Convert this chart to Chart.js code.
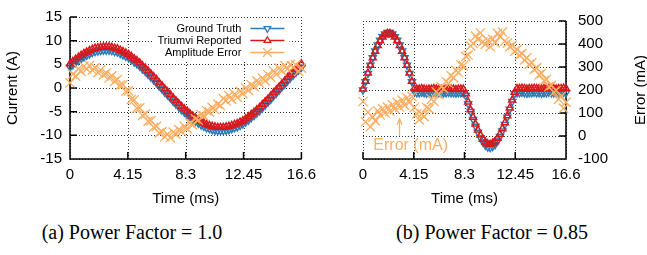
<!DOCTYPE html>
<html>
<head>
<meta charset="utf-8">
<script src="https://cdn.jsdelivr.net/npm/chart.js@4.4.1/dist/chart.umd.min.js"></script>
<style>
  html, body { margin: 0; padding: 0; background: #fff; }
  #wrap { position: relative; width: 647px; height: 255px; overflow: hidden; }
  canvas { position: absolute; top: 0; }
  #chartA { left: 0; }
  #chartB { left: 323px; }
  .caption {
    position: absolute; top: 221px; line-height: 20px;
    font: 20px "Liberation Serif", "Times New Roman", serif;
    color: #000; white-space: nowrap; transform: translateX(-50%);
  }
</style>
</head>
<body>
<div id="wrap">
  <canvas id="chartA" width="323" height="210"></canvas>
  <canvas id="chartB" width="324" height="210"></canvas>
  <div class="caption" style="left:132px">(a) Power Factor = 1.0</div>
  <div class="caption" style="left:492px">(b) Power Factor = 0.85</div>
</div>
<script>
// one reading every 0.2 ms over a 60 Hz cycle
const times = [0, 0.2, 0.4, 0.6, 0.8, 1, 1.2, 1.4, 1.6, 1.8, 2, 2.2, 2.4, 2.6, 2.8, 3, 3.2, 3.4, 3.6, 3.8,
  4, 4.2, 4.4, 4.6, 4.8, 5, 5.2, 5.4, 5.6, 5.8, 6, 6.2, 6.4, 6.6, 6.8, 7, 7.2, 7.4, 7.6, 7.8,
  8, 8.2, 8.4, 8.6, 8.8, 9, 9.2, 9.4, 9.6, 9.8, 10, 10.2, 10.4, 10.6, 10.8, 11, 11.2, 11.4, 11.6, 11.8,
  12, 12.2, 12.4, 12.6, 12.8, 13, 13.2, 13.4, 13.6, 13.8, 14, 14.2, 14.4, 14.6, 14.8, 15, 15.2, 15.4, 15.6, 15.8,
  16, 16.2, 16.4, 16.6];
const timeTicks = [0, 4.15, 8.3, 12.45, 16.6];
const timeLabels = ['0', '4.15', '8.3', '12.45', '16.6'];
const currentTicks = [-15, -10, -5, 0, 5, 10, 15];
const errorTicks = [-100, 0, 100, 200, 300, 400, 500];

// (a) power factor = 1.0, current in A, error in mA
const truthA = [4.4, 4.9, 5.4, 5.8, 6.2, 6.6, 6.9, 7.2, 7.5, 7.7,
  7.8, 7.9, 8.0, 8.0, 8.0, 7.9, 7.7, 7.6, 7.3, 7.0,
  6.7, 6.4, 6.0, 5.5, 5.1, 4.6, 4.0, 3.5, 2.9, 2.3,
  1.7, 1.1, 0.4, -0.2, -0.9, -1.5, -2.1, -2.8, -3.4, -4.0,
  -4.6, -5.1, -5.6, -6.1, -6.6, -7.0, -7.4, -7.8, -8.1, -8.4,
  -8.6, -8.8, -8.9, -9.0, -9.0, -9.0, -8.9, -8.8, -8.6, -8.4,
  -8.2, -7.9, -7.6, -7.2, -6.8, -6.3, -5.8, -5.3, -4.8, -4.2,
  -3.6, -3.0, -2.4, -1.7, -1.1, -0.5, 0.2, 0.8, 1.5, 2.1,
  2.7, 3.3, 3.8, 4.4];
const reportedA = [5.1, 5.6, 6.1, 6.5, 6.9, 7.3, 7.6, 7.9, 8.2, 8.4,
  8.5, 8.6, 8.7, 8.7, 8.7, 8.6, 8.4, 8.3, 8.0, 7.7,
  7.4, 7.1, 6.7, 6.2, 5.8, 5.3, 4.7, 4.2, 3.6, 3.0,
  2.4, 1.8, 1.1, 0.5, -0.2, -0.8, -1.4, -2.1, -2.7, -3.3,
  -3.9, -4.4, -4.9, -5.4, -5.9, -6.3, -6.7, -7.1, -7.4, -7.7,
  -7.9, -8.1, -8.2, -8.3, -8.3, -8.3, -8.2, -8.1, -7.9, -7.7,
  -7.5, -7.2, -6.9, -6.5, -6.1, -5.6, -5.1, -4.6, -4.1, -3.5,
  -2.9, -2.3, -1.7, -1.0, -0.4, 0.2, 0.9, 1.5, 2.2, 2.8,
  3.4, 4.0, 4.5, 5.1];
const errorA = [222, 258, 250, 281, 270, 292, 280, 295, 276, 286,
  265, 277, 255, 263, 242, 251, 228, 236, 212, 214,
  186, 188, 152, 150, 115, 116, 84, 90, 60, 62,
  34, 38, 10, 16, -6, 4, -10, 14, 4, 24,
  16, 38, 28, 52, 44, 70, 64, 88, 82, 104,
  98, 118, 108, 132, 126, 155, 146, 168, 152, 174,
  160, 186, 176, 200, 190, 214, 206, 230, 220, 242,
  230, 256, 246, 272, 258, 284, 272, 296, 280, 300,
  288, 298, 270, 284];

// (b) power factor = 0.85
const truthB = [0, 1.8, 3.6, 5.4, 7.0, 8.5, 9.8, 10.8, 11.6, 12.2,
  12.5, 12.5, 12.2, 11.6, 10.8, 9.8, 8.5, 7.0, 5.4, 3.6,
  1.8, -0.3, -0.6, -0.6, -0.5, -0.6, -0.7, -0.6, -0.6, -0.5,
  -0.6, -0.6, -0.7, -0.6, -0.6, -0.5, -0.6, -0.6, -0.7, -0.6,
  -0.6, -0.6, -1.2, -3.0, -4.7, -6.4, -7.9, -9.2, -10.4, -11.3,
  -12.0, -12.4, -12.5, -12.3, -11.9, -11.1, -10.1, -8.9, -7.5, -5.9,
  -4.2, -2.5, -0.8, -0.6, -0.6, -0.5, -0.6, -0.7, -0.6, -0.6,
  -0.5, -0.6, -0.6, -0.7, -0.6, -0.6, -0.5, -0.6, -0.6, -0.7,
  -0.6, -0.6, -0.5, -0.6];
const reportedB = [0.2, 1.9, 3.7, 5.4, 7.0, 8.4, 9.7, 10.7, 11.5, 12.0,
  12.3, 12.3, 12.0, 11.5, 10.7, 9.7, 8.4, 7.0, 5.4, 3.7,
  1.9, 0.3, 0.2, 0.2, 0.3, 0.2, 0.1, 0.2, 0.2, 0.3,
  0.2, 0.2, 0.1, 0.2, 0.2, 0.3, 0.2, 0.2, 0.1, 0.2,
  0.2, 0.2, -0.8, -2.6, -4.3, -5.9, -7.4, -8.7, -9.8, -10.7,
  -11.3, -11.7, -11.8, -11.6, -11.2, -10.5, -9.6, -8.4, -7.1, -5.6,
  -3.9, -2.2, -0.5, 0.3, 0.3, 0.4, 0.3, 0.2, 0.3, 0.3,
  0.4, 0.3, 0.3, 0.2, 0.3, 0.3, 0.4, 0.3, 0.3, 0.2,
  0.3, 0.3, 0.4, 0.3];
const errorB = [150, 62, 104, 40, 82, 66, 110, 92, 118, 100,
  126, 108, 136, 118, 146, 126, 156, 134, 166, 146,
  172, 124, 96, 70, 96, 84, 124, 118, 160, 150,
  192, 180, 214, 206, 236, 228, 262, 254, 286, 276,
  310, 306, 346, 352, 392, 402, 434, 420, 448, 410,
  398, 416, 388, 420, 406, 446, 432, 452, 412, 404,
  388, 394, 368, 376, 352, 358, 330, 340, 312, 318,
  290, 296, 266, 272, 240, 246, 214, 220, 190, 198,
  160, 172, 120, 146];

const COLORS = { truth: '#2c7bb6', reported: '#d7191c', error: '#fdae61' };
const FONT = '"Liberation Sans", Arial, sans-serif';

Chart.defaults.font.family = FONT;
Chart.defaults.font.size = 15;
Chart.defaults.color = '#000';

const toPoints = values => times.map((t, i) => ({ x: t, y: values[i] }));

function makeDatasets(truth, reported, error) {
    return [
        {
            label: 'Ground Truth',
            data: toPoints(truth),
            yAxisID: 'y',
            pointStyle: 'triangle',
            rotation: 180,
            pointRadius: 4,
            borderWidth: 1.5,
            borderColor: COLORS.truth,
            backgroundColor: 'rgba(0,0,0,0)',
            order: 2,
            clip: false
        },
        {
            label: 'Triumvi Reported',
            data: toPoints(reported),
            yAxisID: 'y',
            pointStyle: 'triangle',
            pointRadius: 4,
            borderWidth: 1.5,
            borderColor: COLORS.reported,
            backgroundColor: 'rgba(0,0,0,0)',
            order: 1,
            clip: false
        },
        {
            label: 'Amplitude Error',
            data: toPoints(error),
            yAxisID: 'y2',
            pointStyle: 'crossRot',
            pointRadius: 6.5,
            borderWidth: 1.3,
            borderColor: COLORS.error,
            backgroundColor: COLORS.error,
            order: 0,
            clip: false
        }
    ];
}

// gnuplot-like frame: dotted grid, solid axes with inward ticks
const framePlugin = {
    id: 'frame',
    beforeDatasetsDraw(chart, args, opts) {
        const { ctx, chartArea: a } = chart;
        const xs = chart.scales.x;
        const ys = chart.scales[opts.axis];
        const vals = opts.axis === 'y' ? currentTicks : errorTicks;
        const snap = v => Math.round(v) + 0.5;
        ctx.save();
        ctx.lineWidth = 1;
        ctx.strokeStyle = '#333';
        ctx.setLineDash([1, 2]);
        ctx.beginPath();
        timeTicks.forEach(v => {
            const px = snap(xs.getPixelForValue(v));
            ctx.moveTo(px, a.top); ctx.lineTo(px, a.bottom);
        });
        vals.forEach(v => {
            const py = snap(ys.getPixelForValue(v));
            ctx.moveTo(a.left, py); ctx.lineTo(a.right, py);
        });
        ctx.stroke();

        ctx.setLineDash([]);
        ctx.strokeStyle = '#000';
        ctx.lineWidth = 1.5;
        const left = opts.side === 'left';
        const edge = left ? a.left : a.right;
        const dir = left ? 1 : -1;
        ctx.beginPath();
        ctx.moveTo(edge, a.top);
        ctx.lineTo(edge, a.bottom);
        ctx.lineTo(left ? a.right : a.left, a.bottom);
        vals.forEach(v => {
            const py = ys.getPixelForValue(v);
            ctx.moveTo(edge, py); ctx.lineTo(edge + dir * 7, py);
        });
        timeTicks.forEach(v => {
            const px = xs.getPixelForValue(v);
            ctx.moveTo(px, a.bottom); ctx.lineTo(px, a.bottom - 7);
        });
        ctx.stroke();
        ctx.restore();
    }
};

// key box in the top right corner of panel (a)
const legendBox = {
    id: 'legendBox',
    afterDatasetsDraw(chart) {
        const { ctx, chartArea: a } = chart;
        const sets = chart.data.datasets;
        const textRight = a.right - 60;
        ctx.save();
        ctx.font = '11px ' + FONT;
        const widest = Math.max(...sets.map(d => ctx.measureText(d.label).width));
        ctx.fillStyle = '#fff';
        ctx.fillRect(textRight - widest - 4, a.top + 3, a.right - 12 - (textRight - widest - 4), 41);
        ctx.textAlign = 'right';
        ctx.textBaseline = 'middle';
        sets.forEach((d, i) => {
            const y = a.top + 11.5 + i * 12;
            ctx.fillStyle = '#000';
            ctx.fillText(d.label, textRight, y);
            ctx.strokeStyle = d.borderColor;
            ctx.lineWidth = 1.5;
            ctx.beginPath();
            ctx.moveTo(a.right - 51, y); ctx.lineTo(a.right - 17, y);
            ctx.stroke();
            ctx.fillStyle = '#fff';
            ctx.lineWidth = 1.3;
            Chart.helpers.drawPoint(ctx, {
                pointStyle: d.pointStyle,
                rotation: d.rotation || 0,
                radius: d.pointStyle === 'crossRot' ? 6 : 3.8,
                borderWidth: 1.3
            }, a.right - 34, y);
        });
        ctx.restore();
    }
};

// right-hand axis title and the "Error (mA)" note with its arrow in panel (b)
const errorNotes = {
    id: 'errorNotes',
    afterDatasetsDraw(chart) {
        const { ctx, chartArea: a, width } = chart;
        const xs = chart.scales.x;
        const y2 = chart.scales.y2;
        ctx.save();
        ctx.font = '15px ' + FONT;
        ctx.fillStyle = '#000';
        ctx.textAlign = 'center';
        ctx.textBaseline = 'middle';
        ctx.translate(width - 6, (a.top + a.bottom) / 2);
        ctx.rotate(-Math.PI / 2);
        ctx.fillText('Error (mA)', 0, 0);
        ctx.restore();

        ctx.save();
        ctx.fillStyle = COLORS.error;
        ctx.strokeStyle = COLORS.error;
        ctx.font = '16px ' + FONT;
        ctx.textAlign = 'center';
        ctx.textBaseline = 'middle';
        ctx.fillText('Error (mA)', xs.getPixelForValue(3.9), y2.getPixelForValue(-42));
        const ax = Math.round(xs.getPixelForValue(2.95)) + 0.5;
        const yTail = y2.getPixelForValue(0);
        const yHead = y2.getPixelForValue(75);
        ctx.lineWidth = 1.2;
        ctx.beginPath();
        ctx.moveTo(ax, yTail); ctx.lineTo(ax, yHead);
        ctx.moveTo(ax - 2.5, yHead + 6); ctx.lineTo(ax, yHead); ctx.lineTo(ax + 2.5, yHead + 6);
        ctx.stroke();
        ctx.restore();
    }
};

function timeAxis() {
    return {
        type: 'linear',
        min: 0,
        max: 16.6,
        afterBuildTicks: scale => { scale.ticks = timeTicks.map(v => ({ value: v })); },
        afterFit: scale => { scale.height = 51; },
        grid: { display: false, drawTicks: false },
        border: { display: false },
        ticks: {
            padding: 7,
            maxRotation: 0,
            autoSkip: false,
            callback: (value, index) => timeLabels[index]
        },
        title: { display: true, text: 'Time (ms)', padding: { top: 4, bottom: 2 } }
    };
}

function makeChart(id, datasets, opts) {
    const ctx = document.getElementById(id).getContext('2d');
    return new Chart(ctx, {
        type: 'scatter',
        data: { datasets },
        options: {
            responsive: false,
            animation: false,
            devicePixelRatio: 1,
            layout: { padding: opts.padding },
            plugins: {
                legend: { display: false },
                tooltip: { enabled: false },
                frame: { axis: opts.frameAxis, side: opts.side }
            },
            scales: {
                x: timeAxis(),
                y: opts.y,
                y2: opts.y2
            }
        },
        plugins: opts.plugins
    });
}

makeChart('chartA', makeDatasets(truthA, reportedA, errorA), {
    padding: { top: 14, right: 21, left: 0, bottom: 0 },
    frameAxis: 'y',
    side: 'left',
    plugins: [framePlugin, legendBox],
    y: {
        position: 'left',
        min: -15,
        max: 15,
        afterBuildTicks: scale => { scale.ticks = currentTicks.map(v => ({ value: v })); },
        afterFit: scale => { scale.width = 70; },
        grid: { display: false, drawTicks: false },
        border: { display: false },
        ticks: { padding: 8 },
        title: { display: true, text: 'Current (A)', padding: { top: 4, bottom: 4 } }
    },
    y2: { position: 'right', display: false, min: -100, max: 500 }
});

makeChart('chartB', makeDatasets(truthB, reportedB, errorB), {
    padding: { top: 14, right: 0, left: 40, bottom: 0 },
    frameAxis: 'y2',
    side: 'right',
    plugins: [framePlugin, errorNotes],
    y: { position: 'left', display: false, min: -15, max: 15 },
    y2: {
        position: 'right',
        min: -100,
        max: 500,
        afterBuildTicks: scale => { scale.ticks = errorTicks.map(v => ({ value: v })); },
        afterFit: scale => { scale.width = 81; },
        grid: { display: false, drawTicks: false },
        border: { display: false },
        ticks: { padding: 12 }
    }
});
</script>
</body>
</html>
